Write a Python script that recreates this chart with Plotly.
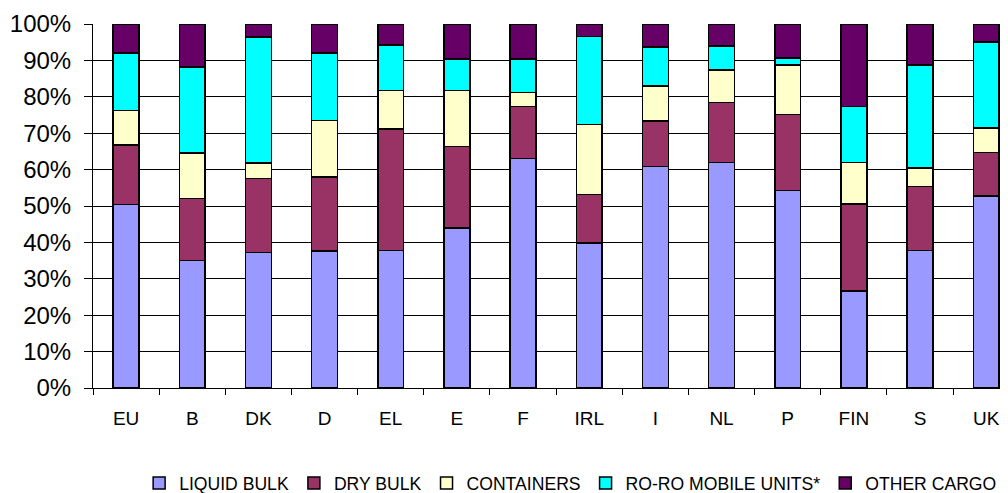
import plotly.graph_objects as go

categories = ["EU", "B", "DK", "D", "EL", "E", "F", "IRL", "I", "NL", "P", "FIN", "S", "UK"]
liquid_bulk = [50.4, 35.0, 37.2, 37.7, 37.8, 43.9, 63.0, 39.9, 60.8, 61.9, 54.3, 26.7, 37.8, 52.7]
dry_bulk = [16.4, 17.0, 20.3, 20.3, 33.4, 22.5, 14.4, 13.3, 12.6, 16.5, 20.9, 23.8, 17.6, 12.0]
containers = [9.5, 12.6, 4.3, 15.5, 10.6, 15.4, 3.8, 19.2, 9.5, 8.9, 13.6, 11.4, 5.0, 6.7]
roro = [15.7, 23.6, 34.6, 18.5, 12.5, 8.6, 9.2, 24.2, 10.8, 6.6, 1.8, 15.4, 28.4, 23.6]
other = [8.0, 11.8, 3.6, 8.0, 5.7, 9.6, 9.6, 3.4, 6.3, 6.1, 9.4, 22.7, 11.2, 5.0]

series = [
    ("LIQUID BULK", liquid_bulk, "#9999FF"),
    ("DRY BULK", dry_bulk, "#993366"),
    ("CONTAINERS", containers, "#FFFFCC"),
    ("RO-RO MOBILE UNITS*", roro, "#00FFFF"),
    ("OTHER CARGO", other, "#660066"),
]

fig = go.Figure()
for name, vals, col in series:
    fig.add_trace(go.Bar(
        x=categories, y=[v / 100 for v in vals], name=name,
        marker=dict(color=col, line=dict(color="#000000", width=1.5)),
    ))

fig.update_layout(
    barmode="stack",
    bargap=0.61,
    width=1000, height=485,
    margin=dict(l=85, r=0, t=16, b=105, autoexpand=False),
    paper_bgcolor="white", plot_bgcolor="white",
    font=dict(family="Liberation Sans, Arial, sans-serif", color="#000000"),
    showlegend=True,
    legend=dict(orientation="h", x=0.522, xanchor="center", y=-0.261, yanchor="middle",
                font=dict(size=17.6), traceorder="normal", itemwidth=30,
                tracegroupgap=0),
)
fig.update_xaxes(
    type="category", range=[-0.5, 13.33], automargin=False,
    showline=True, linecolor="#000000", linewidth=1,
    ticks="outside", ticklen=6, tickcolor="#000000", tickson="boundaries",
    tickfont=dict(size=19), ticklabelstandoff=13, showgrid=False,
)
fig.update_yaxes(
    range=[0, 1], tickformat=".0%", dtick=0.1, automargin=False,
    showline=True, linecolor="#000000", linewidth=1,
    ticks="outside", ticklen=8, tickcolor="#000000",
    tickfont=dict(size=24), ticklabelstandoff=8,
    showgrid=True, gridcolor="#000000", gridwidth=1, zeroline=False,
)

fig.write_html("out.html")
